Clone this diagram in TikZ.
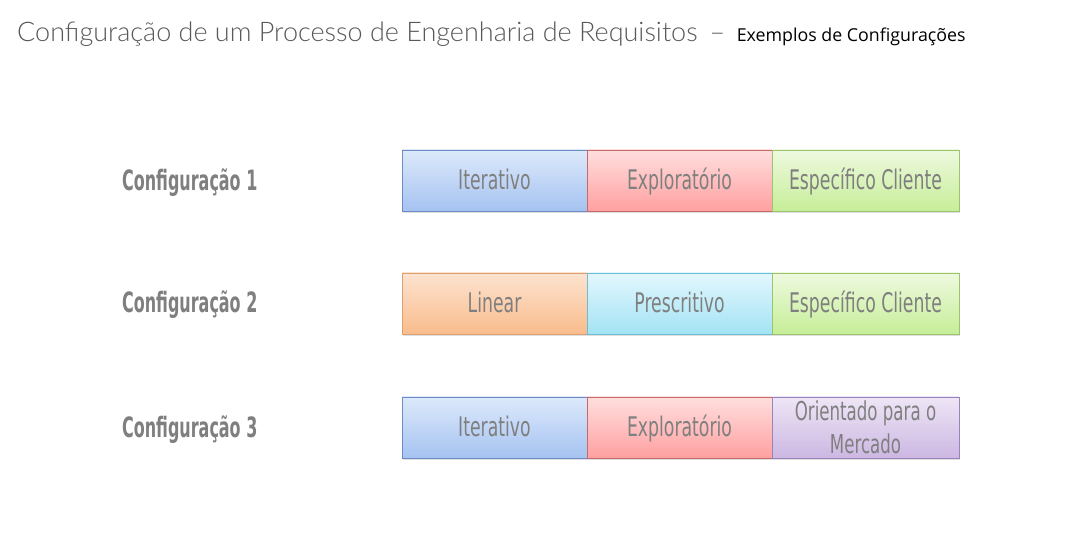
\documentclass[tikz,border=0pt]{standalone}
\usepackage{fontspec}
\usepackage{xcolor}
\usepackage{tikz}
\usetikzlibrary{positioning,shadows}
\setmainfont{Lato}
\newfontfamily\titlefont{Lato Light}
\newfontfamily\subtitlefont{Open Sans}
\newfontfamily\agencyfont[FakeStretch=0.64]{DejaVu Sans}
\newfontfamily\labelfont[FakeStretch=0.57]{DejaVu Sans}
\definecolor{txtGray}{HTML}{7F7F7F}
\definecolor{cfgBlueT}{HTML}{DDE9FB}\definecolor{cfgBlueB}{HTML}{A5C3F1}\definecolor{cfgBlueD}{HTML}{6E8CC4}
\definecolor{cfgRedT}{HTML}{FFDEDE}\definecolor{cfgRedB}{HTML}{FFA0A0}\definecolor{cfgRedD}{HTML}{C46A6A}
\definecolor{cfgGreenT}{HTML}{EEF9DF}\definecolor{cfgGreenB}{HTML}{C6EE98}\definecolor{cfgGreenD}{HTML}{9CC46C}
\definecolor{cfgOrangeT}{HTML}{FDE3D0}\definecolor{cfgOrangeB}{HTML}{F9BC8C}\definecolor{cfgOrangeD}{HTML}{DDA070}
\definecolor{cfgCyanT}{HTML}{E3F7FD}\definecolor{cfgCyanB}{HTML}{A3E3F4}\definecolor{cfgCyanD}{HTML}{6CBCD4}
\definecolor{cfgPurpleT}{HTML}{EEE6F6}\definecolor{cfgPurpleB}{HTML}{CCB7E2}\definecolor{cfgPurpleD}{HTML}{9A82BA}

\begin{document}
\begin{tikzpicture}[
x=1pt, y=1pt,
node distance=0pt,
cfgLabel/.style={anchor=west, inner sep=0pt, text=txtGray, font=\labelfont\bfseries\fontsize{28}{30}\selectfont},
blkBase/.style={draw, minimum width=185pt, minimum height=61pt, inner sep=2pt, outer sep=0pt, align=center, text=txtGray,
  font=\agencyfont\fontsize{27}{28}\selectfont, line width=0.9pt,
  drop shadow={shadow xshift=1pt, shadow yshift=-2pt, opacity=0.25}},
blk/.style={blkBase, text height=22pt, text depth=3pt},
blkBlue/.style={blk, draw=cfgBlueD, top color=cfgBlueT, bottom color=cfgBlueB},
blkRed/.style={blk, draw=cfgRedD, top color=cfgRedT, bottom color=cfgRedB},
blkGreen/.style={blk, draw=cfgGreenD, top color=cfgGreenT, bottom color=cfgGreenB, minimum width=187pt},
blkOrange/.style={blk, draw=cfgOrangeD, top color=cfgOrangeT, bottom color=cfgOrangeB},
blkCyan/.style={blk, draw=cfgCyanD, top color=cfgCyanT, bottom color=cfgCyanB},
blkPurple/.style={blkBase, draw=cfgPurpleD, top color=cfgPurpleT, bottom color=cfgPurpleB, minimum width=187pt,
  font=\agencyfont\fontsize{26}{33}\selectfont}
]
\useasboundingbox[fill=white] (0,0) rectangle (1079,554);

% Title
\node[anchor=base west, inner sep=0pt, text=txtGray!70!black] (title) at (17,512)
  {\titlefont\fontsize{27}{29}\selectfont Configuração de um Processo de Engenharia de Requisitos \,–\, {\subtitlefont\fontsize{17.8}{19}\selectfont\color{black}Exemplos de Configurações}};

% Configuration 1
\node[cfgLabel] (L1) at (122,371.5) {Configuração 1};
\node[blkBlue] (C1a) at (494.5,373.5) {Iterativo};
\node[blkRed, right=of C1a] (C1b) {Exploratório};
\node[blkGreen, right=of C1b] (C1c) {Específico Cliente};

% Configuration 2
\node[cfgLabel] (L2) at (122,249.5) {Configuração 2};
\node[blkOrange] (C2a) at (494.5,250.5) {Linear};
\node[blkCyan, right=of C2a] (C2b) {Prescritivo};
\node[blkGreen, right=of C2b] (C2c) {Específico Cliente};

% Configuration 3
\node[cfgLabel] (L3) at (122,124.5) {Configuração 3};
\node[blkBlue] (C3a) at (494.5,126.5) {Iterativo};
\node[blkRed, right=of C3a] (C3b) {Exploratório};
\node[blkPurple, right=of C3b] (C3c) {Orientado para o\\Mercado};
\end{tikzpicture}
\end{document}
